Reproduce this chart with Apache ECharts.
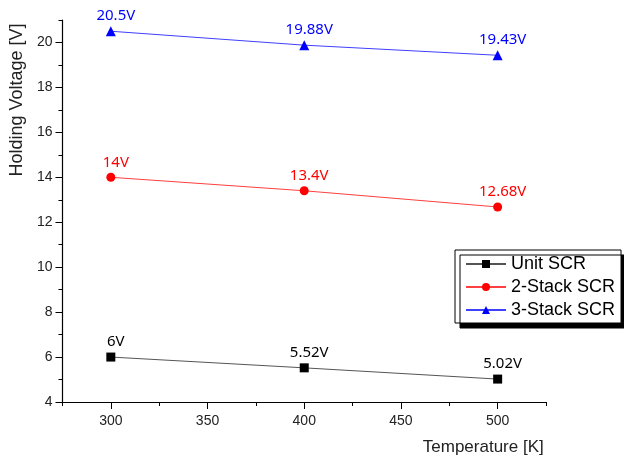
<!DOCTYPE html>
<html>
<head>
<meta charset="utf-8">
<script src="https://cdn.jsdelivr.net/npm/echarts@6/dist/echarts.min.js"></script>
<style>html,body{margin:0;padding:0;background:#fff;}#c{width:624px;height:461px;}</style>
</head>
<body>
<div id="c"></div>
<script>
var temperatures = [300, 400, 500];
var unitSCR = [6, 5.52, 5.02];
var stack2SCR = [14, 13.4, 12.68];
var stack3SCR = [20.5, 19.88, 19.43];
var seriesNames = ['Unit SCR', '2-Stack SCR', '3-Stack SCR'];
var xMajorTicks = [300, 350, 400, 450, 500];
var xMinorTicks = [275, 325, 375, 425, 475, 525];
var yMajorTicks = [4, 6, 8, 10, 12, 14, 16, 18, 20];
var yMinorTicks = [5, 7, 9, 11, 13, 15, 17, 19, 21];

function pairs(vals) { return temperatures.map(function (t, i) { return [t, vals[i]]; }); }

var chart = echarts.init(document.getElementById('c'), null, { renderer: 'canvas' });
var labelFont = 'Noto Sans';
function mkSeries(name, data, color, lineColor, symbol, size) {
  return {
    name: name, type: 'line', xAxisIndex: 0, yAxisIndex: 0,
    data: pairs(data), symbol: symbol, symbolSize: size,
    itemStyle: { color: color },
    lineStyle: { color: lineColor, width: 1 },
    label: {
      show: true, position: 'top', distance: 3, offset: [5, 0],
      color: color, fontSize: 15, fontFamily: labelFont,
      formatter: function (p) { return p.value[1] + 'V'; }
    },
    emphasis: { disabled: true },
    animation: false
  };
}
var axisCommonX = { type: 'value', min: 275, max: 525, position: 'bottom', splitLine: { show: false } };
var axisCommonY = { type: 'value', min: 4, max: 21, position: 'left', splitLine: { show: false } };
chart.setOption({
  backgroundColor: '#fff',
  animation: false,
  grid: { left: 62, right: 78, top: 20, bottom: 58, containLabel: false },
  legend: {
    orient: 'vertical', left: 455, top: 250,
    data: seriesNames,
    backgroundColor: '#fff', borderColor: '#000', borderWidth: 1,
    shadowColor: '#000', shadowBlur: 0, shadowOffsetX: 5, shadowOffsetY: 5,
    padding: [5, 6, 4, 10], itemGap: 5, itemWidth: 40, itemHeight: 10,
    textStyle: { fontSize: 18, color: '#000', fontFamily: 'Liberation Sans' }
  },
  xAxis: [
    Object.assign({}, axisCommonX, {
      name: 'Temperature [K]', nameLocation: 'middle', nameGap: 37,
      nameTextStyle: { fontSize: 17, color: '#222', fontFamily: 'Liberation Sans', padding: [0, 0, 0, 358] },
      axisLine: { show: true, lineStyle: { color: '#000', width: 1.2 } },
      axisTick: { show: true, customValues: xMajorTicks, length: 7, lineStyle: { color: '#000' } },
      axisLabel: { customValues: xMajorTicks, fontSize: 14, color: '#222', fontFamily: 'Liberation Sans', margin: 12 }
    }),
    Object.assign({}, axisCommonX, {
      axisLine: { show: false },
      axisTick: { show: true, customValues: xMinorTicks, length: 4, lineStyle: { color: '#000' } },
      axisLabel: { show: false }
    })
  ],
  yAxis: [
    Object.assign({}, axisCommonY, {
      name: 'Holding Voltage [V]', nameLocation: 'middle', nameGap: 31, nameRotate: 90,
      nameTextStyle: { fontSize: 18, color: '#222', fontFamily: 'Liberation Sans', padding: [0, 0, 0, 222] },
      axisLine: { show: true, lineStyle: { color: '#000', width: 1.2 } },
      axisTick: { show: true, customValues: yMajorTicks, length: 7, lineStyle: { color: '#000' } },
      axisLabel: { customValues: yMajorTicks, fontSize: 14, color: '#222', fontFamily: 'Liberation Sans', margin: 10 }
    }),
    Object.assign({}, axisCommonY, {
      axisLine: { show: false },
      axisTick: { show: true, customValues: yMinorTicks, length: 4, lineStyle: { color: '#000' } },
      axisLabel: { show: false }
    })
  ],
  series: [
    mkSeries(seriesNames[0], unitSCR, '#000000', '#555555', 'rect', 9),
    mkSeries(seriesNames[1], stack2SCR, '#ff0000', '#ff4040', 'circle', 9),
    mkSeries(seriesNames[2], stack3SCR, '#0000ff', '#4040ff', 'triangle', 10)
  ]
});
</script>
</body>
</html>
